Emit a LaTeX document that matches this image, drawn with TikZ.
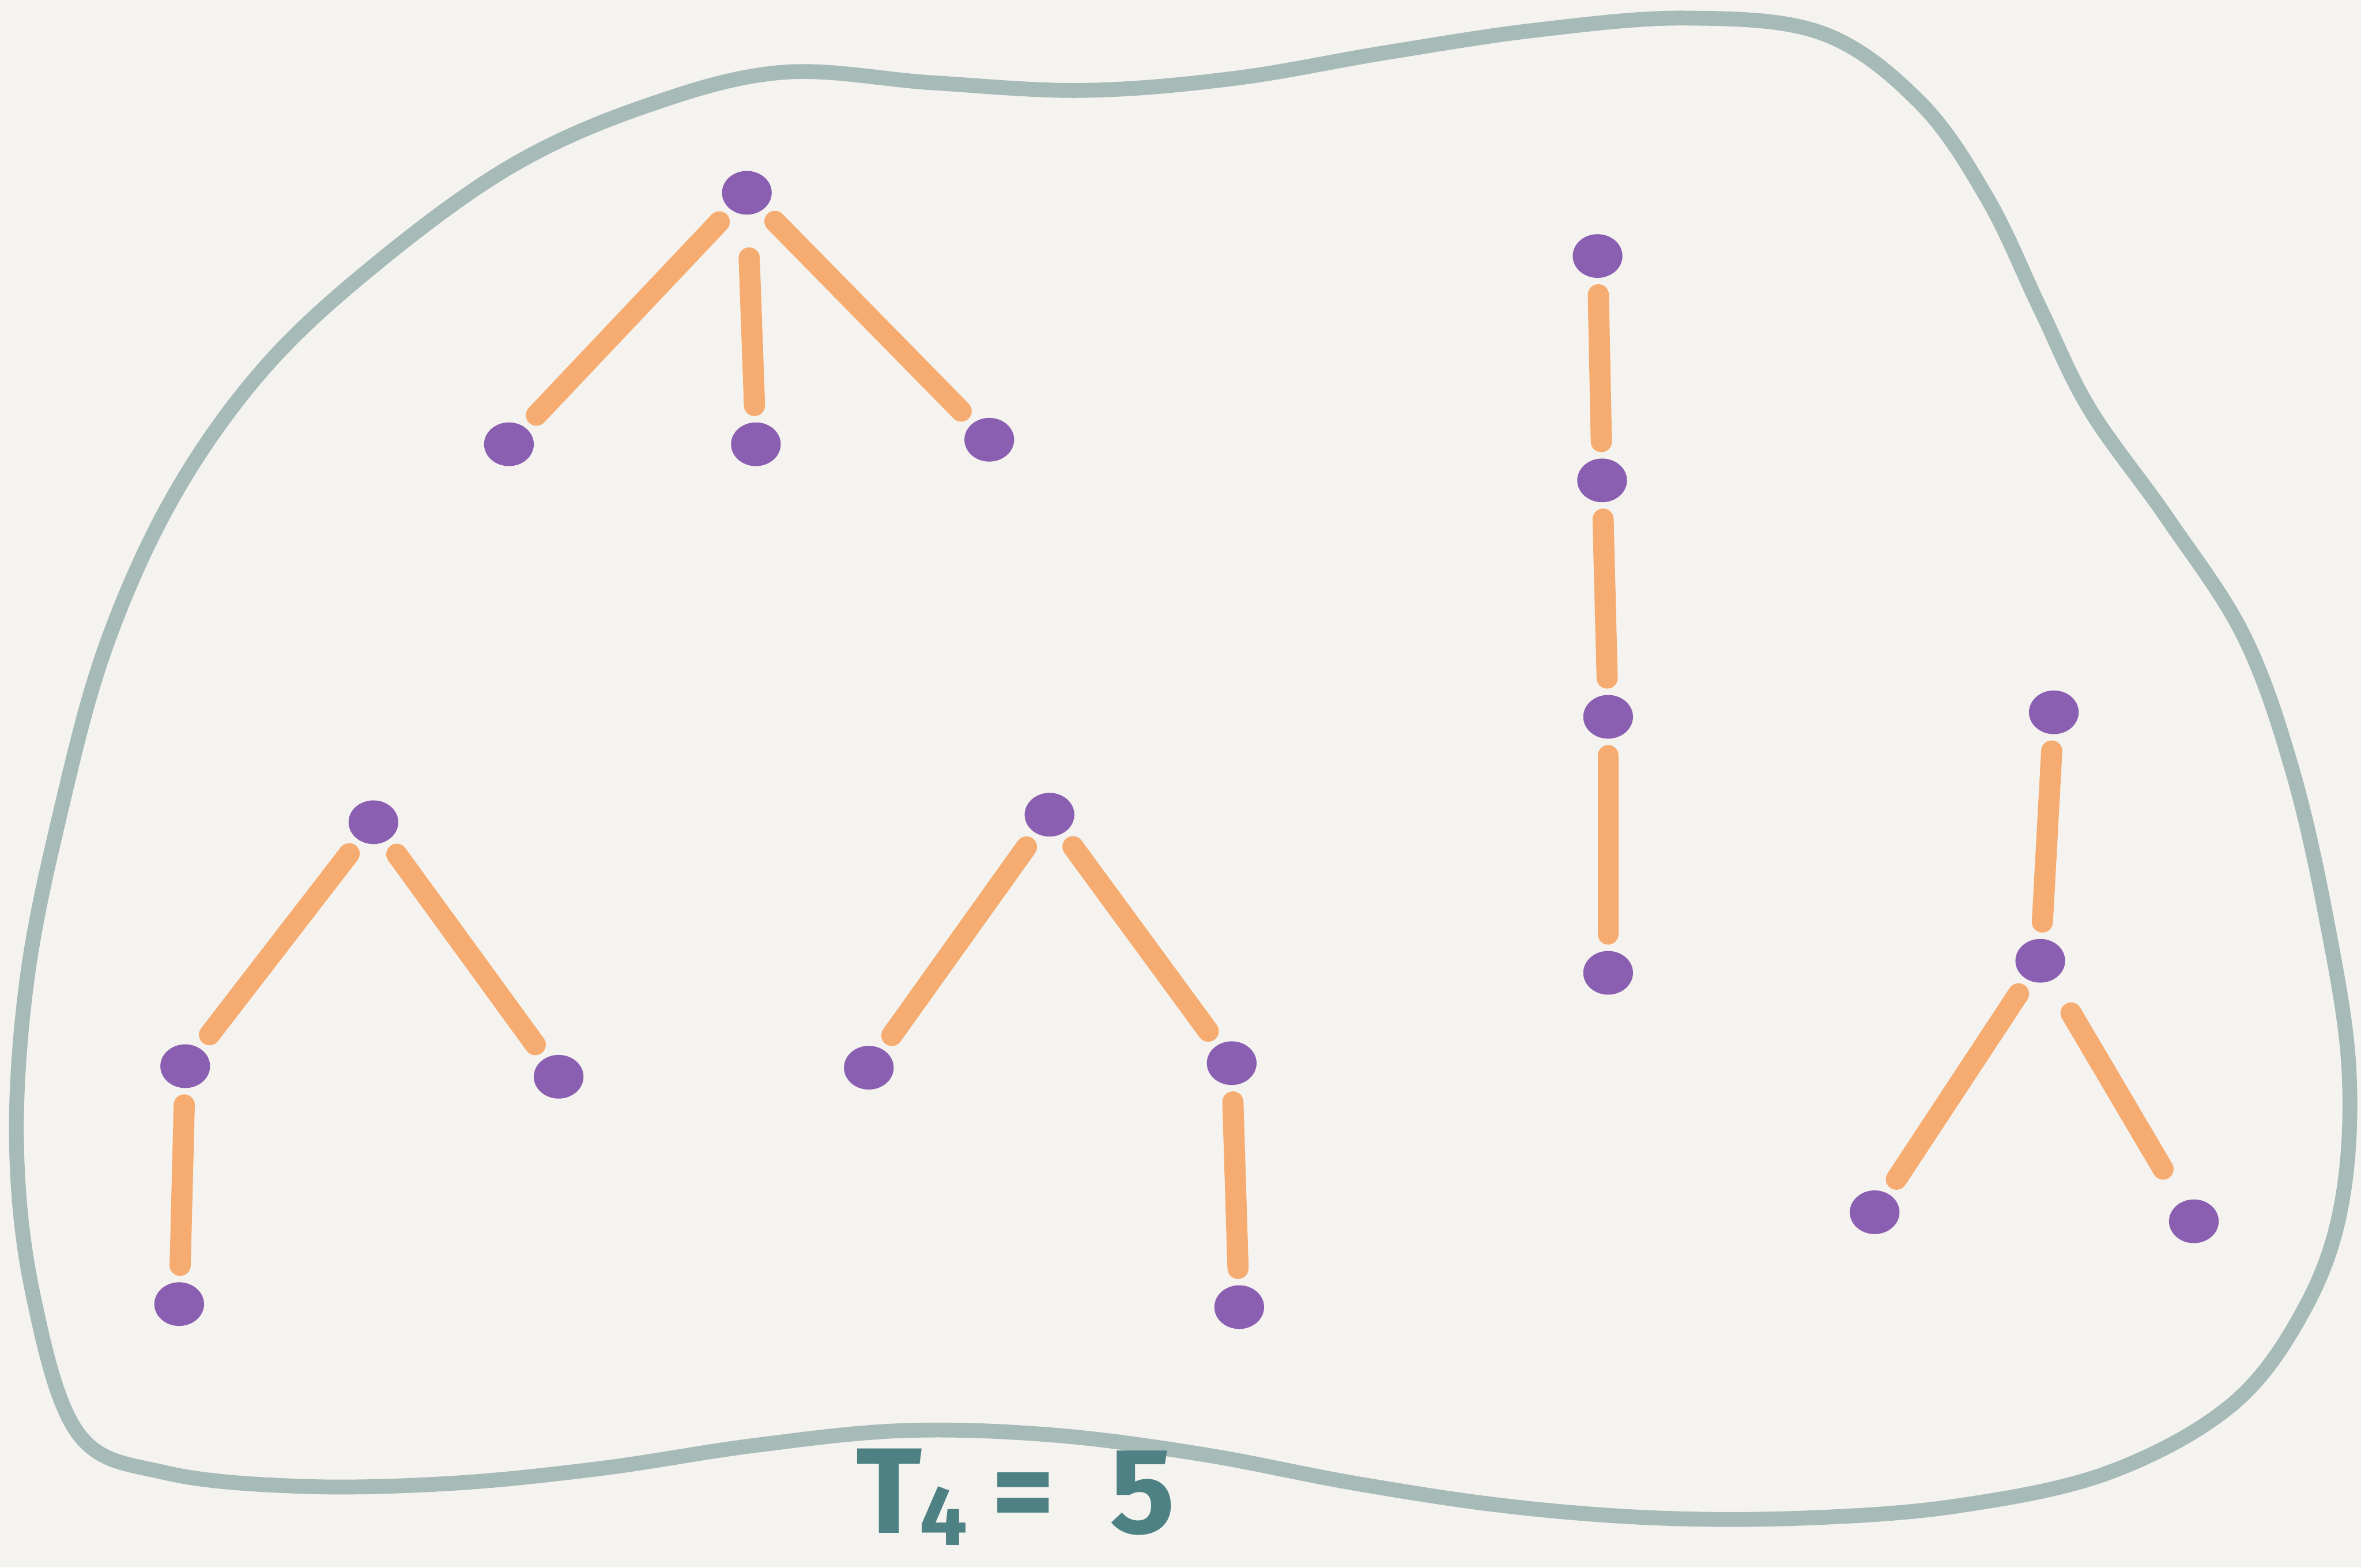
\documentclass[tikz,border=0pt]{standalone}
\usepackage{fontspec}
\setsansfont{Fira Sans}
\usetikzlibrary{shapes.geometric}
\definecolor{bgc}{HTML}{F5F3EF}
\definecolor{blobc}{HTML}{A6BAB8}
\definecolor{edgec}{HTML}{F6AC70}
\definecolor{vertc}{HTML}{8A5EB0}
\definecolor{labc}{HTML}{4E8184}
\begin{document}
\begin{tikzpicture}[x=0.01cm,y=-0.01cm,
  vtx/.style={ellipse,fill=vertc,draw=none,inner sep=0pt,minimum width=0.33cm,minimum height=0.29cm},
  edg/.style={draw=edgec,line width=4pt,line cap=round,shorten <=3pt,shorten >=3pt},
  blob/.style={draw=blobc,line width=2.8pt}]
\fill[bgc] (0,0) rectangle (1568,1041);
\useasboundingbox (0,0) rectangle (1568,1041);
% enclosing blob
\draw[blob] plot[smooth cycle,tension=0.6] coordinates {
  (52,952) (22,860) (11,760) (18,650) (40,540) (70,430) (115,330) (175,245)
  (250,175) (340,110) (430,70) (520,48) (620,55) (720,60) (820,52) (920,35)
  (1020,20) (1120,12) (1210,22) (1275,68) (1320,132) (1355,205) (1388,272)
  (1440,345) (1490,422) (1522,510) (1545,610) (1560,710) (1555,800)
  (1530,870) (1482,933) (1400,978) (1300,1000) (1200,1008) (1100,1008)
  (1000,1000) (900,985) (800,966) (700,953) (600,950) (500,960) (400,975)
  (300,985) (200,987) (110,978)};
% tree 1: star
\node[vtx] (a0) at (496,128) {};
\node[vtx] (a1) at (338,295) {};
\node[vtx] (a2) at (502,295) {};
\node[vtx] (a3) at (657,292) {};
\draw[edg] (a0) -- (a1);
\draw[edg,shorten <=8pt] (a0) -- (a2);
\draw[edg] (a0) -- (a3);
% tree 2: path
\node[vtx] (b0) at (1061,170) {};
\node[vtx] (b1) at (1064,319) {};
\node[vtx] (b2) at (1068,476) {};
\node[vtx] (b3) at (1068,646) {};
\draw[edg] (b0) -- (b1);
\draw[edg] (b1) -- (b2);
\draw[edg] (b2) -- (b3);
% tree 3
\node[vtx] (c0) at (248,546) {};
\node[vtx] (c1) at (123,708) {};
\node[vtx] (c2) at (371,715) {};
\node[vtx] (c3) at (119,866) {};
\draw[edg] (c0) -- (c1);
\draw[edg] (c0) -- (c2);
\draw[edg] (c1) -- (c3);
% tree 4
\node[vtx] (d0) at (697,541) {};
\node[vtx] (d1) at (577,709) {};
\node[vtx] (d2) at (818,706) {};
\node[vtx] (d3) at (823,868) {};
\draw[edg] (d0) -- (d1);
\draw[edg] (d0) -- (d2);
\draw[edg] (d2) -- (d3);
% tree 5
\node[vtx] (e0) at (1364,473) {};
\node[vtx] (e1) at (1355,638) {};
\node[vtx] (e2) at (1245,805) {};
\node[vtx] (e3) at (1457,811) {};
\draw[edg] (e0) -- (e1);
\draw[edg] (e1) -- (e2);
\draw[edg,shorten <=7pt,shorten >=7pt] (e1) -- (e3);
% label
\node[text=labc,anchor=base west,inner sep=0pt,font=\fontsize{23}{28}\selectfont\bfseries\sffamily] (lab) at (568,1018)
  {T\kern-0.02em\raisebox{-0.1em}{\fontsize{16}{20}\selectfont 4}\kern0.2em=\kern0.45em5};
\end{tikzpicture}
\end{document}
